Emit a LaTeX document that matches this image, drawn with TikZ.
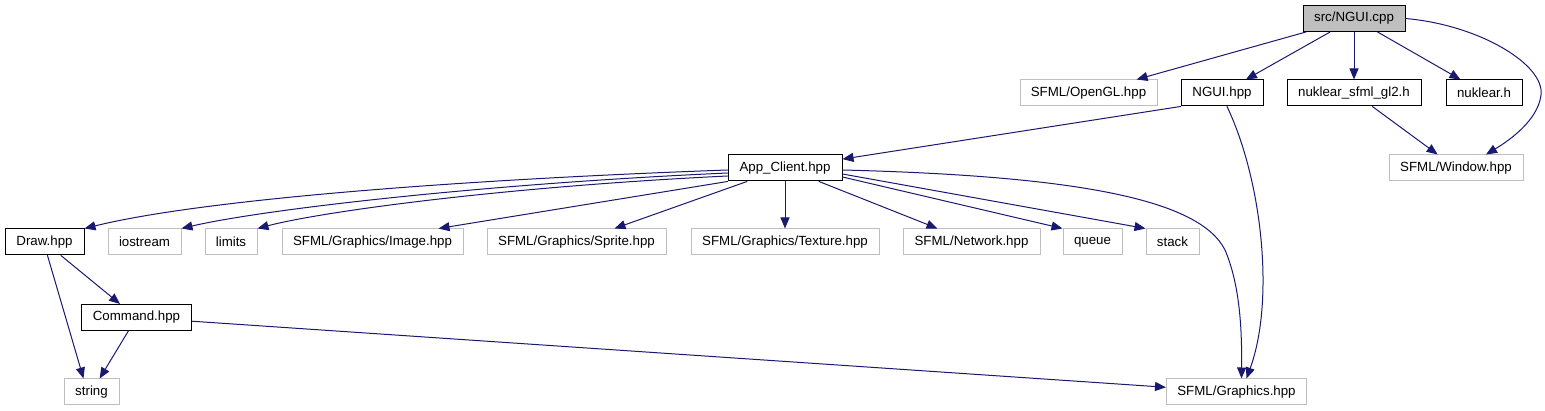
\documentclass[tikz,border=0pt]{standalone}
\usepackage{fontspec}
\setmainfont{Liberation Sans}
\usetikzlibrary{arrows.meta,calc}
\definecolor{edgeblue}{HTML}{191970}
\definecolor{boxgray}{HTML}{BFBFBF}
\begin{document}
\begin{tikzpicture}[x=1pt,y=-1pt,line cap=round,font=\fontsize{13.3}{15}\selectfont,
	hdr/.style={draw=black,line width=1pt,inner sep=0pt,minimum height=26pt},
	sys/.style={hdr,draw=boxgray},
	dep/.style={edgeblue,line width=1pt,-{Triangle[length=11pt,width=9pt]}}]
	\def\yA{18.5}
	\def\yB{93}
	\def\yC{168}
	\def\yD{242}
	\def\yE{317.5}
	\def\yF{392}
	\useasboundingbox (0,0) rectangle (1545,411);
	% The source file and what it includes directly
	\node[hdr,fill=boxgray,minimum width=102pt] (cpp) at (1354,\yA) {src/NGUI.cpp};
	\node[sys,minimum width=137pt] (ogl) at (1088.5,\yB) {SFML/OpenGL.hpp};
	\node[hdr,minimum width=82pt] (nguih) at (1222,\yB) {NGUI.hpp};
	\node[hdr,minimum width=134pt] (nsg) at (1354,\yB) {nuklear\_sfml\_gl2.h};
	\node[hdr,minimum width=76pt] (nuk) at (1484,\yB) {nuklear.h};
	\node[sys,minimum width=134pt] (win) at (1456,\yC) {SFML/Window.hpp};
	\node[hdr,minimum width=114pt] (app) at (785,\yC) {App\_Client.hpp};
	% Headers pulled in by App_Client.hpp
	\node[hdr,minimum width=79pt] (draw) at (44.5,\yD) {Draw.hpp};
	\node[sys,minimum width=73pt] (ios) at (144.5,\yD) {iostream};
	\node[sys,minimum width=52pt] (lim) at (231,\yD) {limits};
	\node[sys,minimum width=181pt] (img) at (372.5,\yD) {SFML/Graphics/Image.hpp};
	\node[sys,minimum width=179pt] (spr) at (576.5,\yD) {SFML/Graphics/Sprite.hpp};
	\node[sys,minimum width=188pt] (tex) at (785,\yD) {SFML/Graphics/Texture.hpp};
	\node[sys,minimum width=137pt] (net) at (971.5,\yD) {SFML/Network.hpp};
	\node[sys,minimum width=59pt] (que) at (1092.5,\yD) {queue};
	\node[sys,minimum width=53pt] (stk) at (1172.5,\yD) {stack};
	\node[hdr,minimum width=110pt] (cmd) at (136.5,\yE) {Command.hpp};
	\node[sys,minimum width=55pt] (str) at (91.5,\yF) {string};
	\node[sys,minimum width=140pt] (gfx) at (1236.5,\yF) {SFML/Graphics.hpp};
	% Edges from src/NGUI.cpp
	\draw[dep] (cpp) -- (ogl);
	\draw[dep] (cpp) -- (nguih);
	\draw[dep] (cpp) -- (nsg);
	\draw[dep] (cpp) -- (nuk);
	\draw[dep] (cpp.east) .. controls (1480,25) and (1545,65) .. (1541,95)
		.. controls (1538,120) and (1510,140) .. ($(win.north)+(30,0)$);
	\draw[dep] (nsg) -- (win);
	\draw[dep] (nguih.south west) -- (app);
	\draw[dep] ($(nguih.south)+(5,0)$) .. controls (1262,180) and (1275,300) .. ($(gfx.north)+(10,0)$);
	% Edges from App_Client.hpp
	\draw[dep] ($(app.west)+(0,2)$) .. controls (450,180) and (200,200) .. (draw.north east);
	\draw[dep] ($(app.west)+(0,5)$) .. controls (480,184) and (260,210) .. (ios.north east);
	\draw[dep] ($(app.west)+(0,8)$) .. controls (500,187) and (320,212) .. (lim.north east);
	\draw[dep] (app.south west) -- ($(img.north)+(66,0)$);
	\draw[dep] (app) -- (spr);
	\draw[dep] (app) -- (tex);
	\draw[dep] (app) -- (net);
	\draw[dep] ($(app.east)+(0,9)$) -- (que.north west);
	\draw[dep] ($(app.east)+(0,6)$) -- (stk.north west);
	\draw[dep] ($(app.east)+(0,2)$) .. controls (1080,176) and (1200,200) .. (1225,250)
		.. controls (1240,285) and (1242,330) .. ($(gfx.north)+(5,0)$);
	% Lower part
	\draw[dep] ($(draw.south)+(3,0)$) -- ($(str.north)+(-8,0)$);
	\draw[dep] (draw) -- (cmd);
	\draw[dep] (cmd) -- (str);
	\draw[dep] (cmd) -- (gfx);
\end{tikzpicture}
\end{document}
